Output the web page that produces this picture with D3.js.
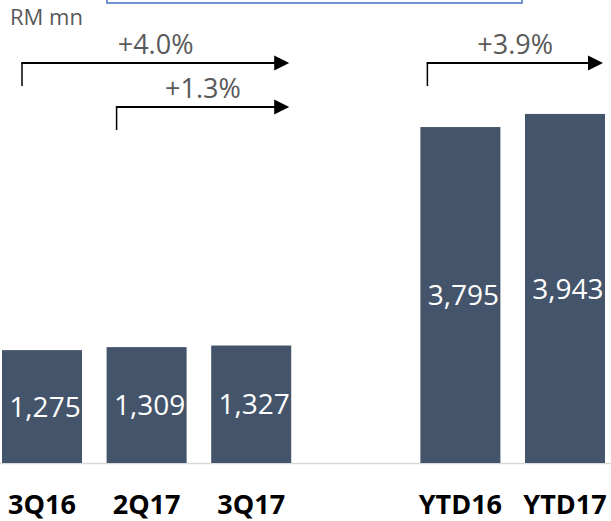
<!DOCTYPE html>
<html>
<head>
<meta charset="utf-8">
<script src="https://cdn.jsdelivr.net/npm/d3@7"></script>
<style>
  html, body { margin: 0; padding: 0; background: #fff; }
  svg { display: block; font-family: "Open Sans", sans-serif; }
</style>
</head>
<body>
<div id="chart"></div>
<script>
// Revenue, RM mn
const categories = ['3Q16', '2Q17', '3Q17', '', 'YTD16', 'YTD17'];
const values = [1275, 1309, 1327, null, 3795, 3943];
const growthLabels = ['+4.0%', '+1.3%', '+3.9%'];
const growthFrom = ['3Q16', '2Q17', 'YTD16'];
const growthTo = ['3Q17', '3Q17', 'YTD17'];

(function() {
    'use strict';

    const width = 611, height = 521;
    const baseY = 463;
    const barColor = '#44546a';
    const textGrey = '#595959';

    const svg = d3.select('#chart').append('svg')
        .attr('width', width)
        .attr('height', height);

    // cropped blue frame at the very top
    svg.append('rect')
        .attr('x', 107).attr('y', -20)
        .attr('width', 415).attr('height', 23)
        .attr('fill', 'none')
        .attr('stroke', '#4472c4')
        .attr('stroke-width', 1.5);

    const x = d3.scaleBand()
        .domain(categories)
        .range([2, 605])
        .paddingInner(0.235)
        .paddingOuter(0);

    const y = d3.scaleLinear()
        .domain([0, 5230])
        .range([baseY, 0]);

    const data = categories
        .map((c, i) => ({ cat: c, value: values[i] }))
        .filter(d => d.value != null);

    // baseline
    svg.append('line')
        .attr('x1', 0).attr('x2', width)
        .attr('y1', baseY + 0.5).attr('y2', baseY + 0.5)
        .attr('stroke', '#d9d9d9')
        .attr('stroke-width', 1.5);

    svg.selectAll('rect.bar')
        .data(data)
        .join('rect')
        .attr('class', 'bar')
        .attr('x', d => x(d.cat))
        .attr('y', d => y(d.value))
        .attr('width', x.bandwidth())
        .attr('height', d => baseY - y(d.value))
        .attr('fill', barColor);

    svg.selectAll('text.val')
        .data(data)
        .join('text')
        .attr('class', 'val')
        .attr('x', d => x(d.cat) + x.bandwidth() / 2 + 3)
        .attr('y', d => (y(d.value) + baseY) / 2)
        .attr('dy', '0.36em')
        .attr('text-anchor', 'middle')
        .attr('fill', '#fff')
        .attr('font-size', 28)
        .text(d => d3.format(',')(d.value));

    // category labels
    svg.selectAll('text.cat')
        .data(data)
        .join('text')
        .attr('class', 'cat')
        .attr('x', d => x(d.cat) + x.bandwidth() / 2)
        .attr('y', 514)
        .attr('text-anchor', 'middle')
        .attr('font-weight', 700)
        .attr('font-size', 27)
        .attr('fill', '#000')
        .text(d => d.cat);

    svg.append('text')
        .attr('x', 10).attr('y', 25)
        .attr('fill', textGrey)
        .attr('font-size', 22)
        .text('RM mn');

    // growth arrows
    const arrowInset = [20, 10, 7];
    const arrowRowY = [63, 107];
    const arrowRow = [0, 1, 0];

    growthLabels.forEach((label, i) => {
        const x0 = x(growthFrom[i]) + arrowInset[i];
        const x1 = x(growthTo[i]) + x.bandwidth() - 2;
        const yy = arrowRowY[arrowRow[i]];
        const g = svg.append('g');

        g.append('path')
            .attr('d', `M${x0},${yy + 23}V${yy}`)
            .attr('stroke', '#000')
            .attr('stroke-width', 1.5)
            .attr('fill', 'none');

        g.append('path')
            .attr('d', `M${x0 - 0.75},${yy}H${x1 - 12}`)
            .attr('stroke', '#000')
            .attr('stroke-width', 2)
            .attr('fill', 'none');

        g.append('path')
            .attr('d', `M${x1},${yy}L${x1 - 15},${yy - 7.5}L${x1 - 15},${yy + 7.5}Z`)
            .attr('fill', '#000');

        g.append('text')
            .attr('x', (x0 + x1) / 2)
            .attr('y', yy - 9)
            .attr('text-anchor', 'middle')
            .attr('fill', textGrey)
            .attr('font-size', 27)
            .text(label);
    });
})();
</script>
</body>
</html>
